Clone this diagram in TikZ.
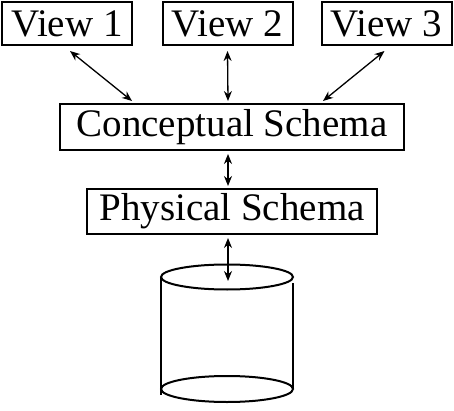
\documentclass[tikz,border=0pt]{standalone}
\usepackage{fontspec}
\setmainfont{Liberation Serif}
\usetikzlibrary{arrows.meta}

\begin{document}
\begin{tikzpicture}[x=1pt, y=-1pt, every node/.style={font=\fontsize{39}{44}\selectfont}]
	\tikzset{
		level/.style={draw, line width=2pt, inner sep=0pt},
		link/.style={{Stealth[length=10pt,width=8pt]}-{Stealth[length=10pt,width=8pt]}, line width=1.3pt}
	}
	\useasboundingbox[fill=white] (0,0) rectangle (454,411);
	
	% 视图层
	\node[level, minimum width=130pt, minimum height=43pt] (view1) at (67,23.5) {View 1};
	\node[level, minimum width=130pt, minimum height=43pt] (view2) at (227.5,23.5) {View 2};
	\node[level, minimum width=130pt, minimum height=43pt] (view3) at (386.5,23.5) {View 3};
	
	% 概念模式与物理模式
	\node[level, minimum width=344pt, minimum height=46pt] (concept) at (232,127) {Conceptual Schema};
	\node[level, minimum width=290pt, minimum height=45pt] (physical) at (232,211.5) {Physical Schema};
	
	% 数据库圆柱
	\coordinate (dbtop) at (227,277);
	\coordinate (dbbottom) at (227,389);
	\draw[line width=2pt] (dbtop) ellipse (66 and 12.5);
	\draw[line width=2pt] (dbbottom) ellipse (66 and 13);
	\draw[line width=2pt] ([xshift=-66pt]dbtop) -- ([xshift=-66pt,yshift=-6pt]dbbottom);
	\draw[line width=2pt] ([xshift=66pt,yshift=-6pt]dbtop) -- ([xshift=66pt]dbbottom);
	
	% 箭头
	\draw[link] ([xshift=3pt,yshift=-5pt]view1.south) -- ([xshift=-100pt,yshift=2pt]concept.north);
	\draw[link] ([yshift=-5pt]view2.south) -- ([xshift=-4pt,yshift=2pt]concept.north);
	\draw[link] ([xshift=-2pt,yshift=-5pt]view3.south) -- ([xshift=91pt,yshift=2pt]concept.north);
	\draw[link] ([xshift=-4pt,yshift=-3pt]concept.south) -- ([xshift=-4pt,yshift=2pt]physical.north);
	\draw[link] ([xshift=-4pt,yshift=-3pt]physical.south) -- ([xshift=1pt,yshift=-4pt]dbtop);
\end{tikzpicture}
\end{document}
